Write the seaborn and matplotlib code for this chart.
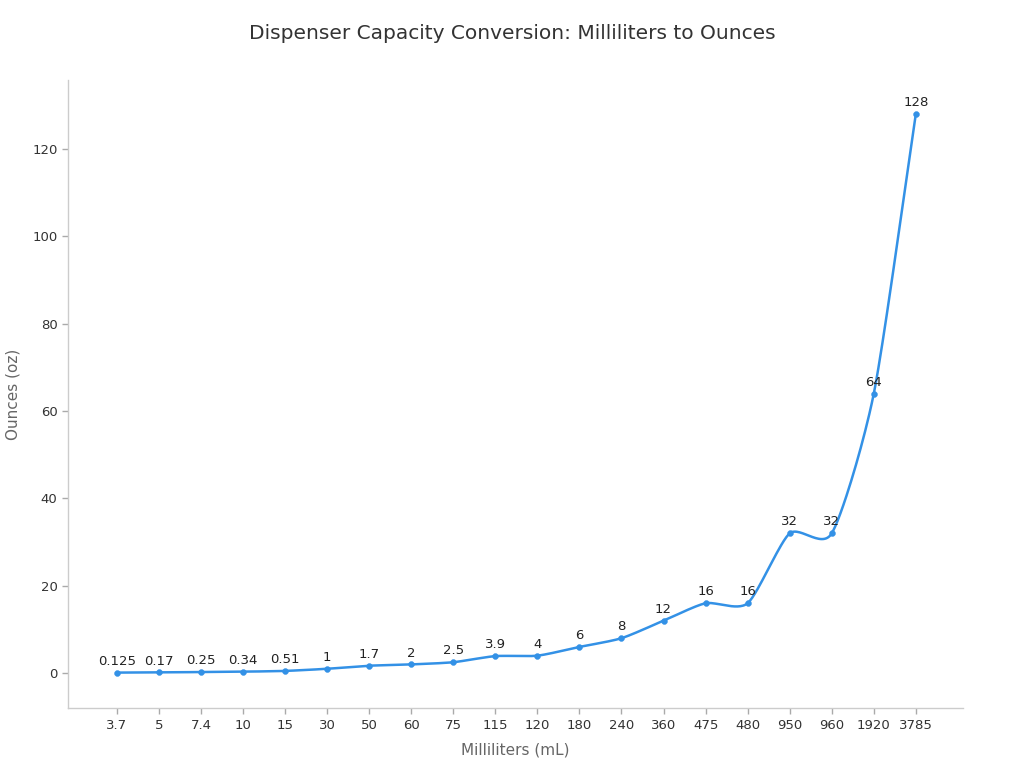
import numpy as np
import pandas as pd
import matplotlib
matplotlib.use("Agg")
import matplotlib.pyplot as plt
import seaborn as sns

ml_labels = ["3.7", "5", "7.4", "10", "15", "30", "50", "60", "75", "115",
             "120", "180", "240", "360", "475", "480", "950", "960", "1920", "3785"]
ounces = [0.125, 0.17, 0.25, 0.34, 0.51, 1, 1.7, 2, 2.5, 3.9,
          4, 6, 8, 12, 16, 16, 32, 32, 64, 128]
ounce_labels = ["0.125", "0.17", "0.25", "0.34", "0.51", "1", "1.7", "2", "2.5", "3.9",
                "4", "6", "8", "12", "16", "16", "32", "32", "64", "128"]

LINE = "#3391e6"

sns.set_theme(style="white")
plt.rcParams['font.family'] = ['DejaVu Sans']

df = pd.DataFrame({"pos": np.arange(len(ml_labels)), "oz": ounces})


# smooth cardinal curve through the points (drawing only)
def smooth(x, y, n=30, c=0.7):
    x = np.asarray(x, float)
    y = np.asarray(y, float)
    px = np.concatenate([[2 * x[0] - x[1]], x, [2 * x[-1] - x[-2]]])
    py = np.concatenate([[2 * y[0] - y[1]], y, [2 * y[-1] - y[-2]]])
    xs, ys = [], []
    t = np.linspace(0, 1, n, endpoint=False)
    h00 = 2 * t ** 3 - 3 * t ** 2 + 1
    h10 = t ** 3 - 2 * t ** 2 + t
    h01 = -2 * t ** 3 + 3 * t ** 2
    h11 = t ** 3 - t ** 2
    for i in range(1, len(px) - 2):
        for p, out in ((px, xs), (py, ys)):
            m1 = c * (p[i + 1] - p[i - 1]) / 2
            m2 = c * (p[i + 2] - p[i]) / 2
            out.append(h00 * p[i] + h10 * m1 + h01 * p[i + 1] + h11 * m2)
    xs.append([x[-1]])
    ys.append([y[-1]])
    return np.concatenate(xs), np.concatenate(ys)


sx, sy = smooth(df["pos"], df["oz"])
curve = pd.DataFrame({"pos": sx, "oz": sy})

fig = plt.figure(figsize=(10.24, 7.68), dpi=100)
ax = fig.add_axes([0.0664, 0.078, 0.874, 0.818])

sns.lineplot(data=curve, x="pos", y="oz", ax=ax, color=LINE, linewidth=1.8, sort=False)
sns.scatterplot(data=df, x="pos", y="oz", ax=ax, color=LINE, s=18, edgecolor=LINE, zorder=3)

for i, (v, lab) in enumerate(zip(ounces, ounce_labels)):
    ax.annotate(lab, (i, v), xytext=(0, 3.5), textcoords="offset points",
                ha="center", va="bottom", fontsize=9.5, color="#222222")

ax.set_xticks(df["pos"])
ax.set_xticklabels(ml_labels)
ax.set_xlim(-1.16, 20.12)
ax.set_ylim(-8, 135.8)
ax.set_yticks([0, 20, 40, 60, 80, 100, 120])

for s in ["top", "right"]:
    ax.spines[s].set_visible(False)
for s in ["left", "bottom"]:
    ax.spines[s].set_color("#cccccc")
    ax.spines[s].set_linewidth(1)

ax.tick_params(axis="both", which="both", length=4, width=1, color="#aaaaaa",
               labelsize=9.5, labelcolor="#333333", bottom=True, left=True)

ax.set_xlabel("Milliliters (mL)", fontsize=11, color="#666666", labelpad=8)
ax.set_ylabel("")
fig.text(0.0127, 0.487, "Ounces (oz)",
         rotation=90, ha="center", va="center", fontsize=11, color="#666666")

fig.suptitle("Dispenser Capacity Conversion: Milliliters to Ounces",
             y=0.957, fontsize=14.5, color="#333333", va="center")

plt.savefig("out.png", dpi=100)
